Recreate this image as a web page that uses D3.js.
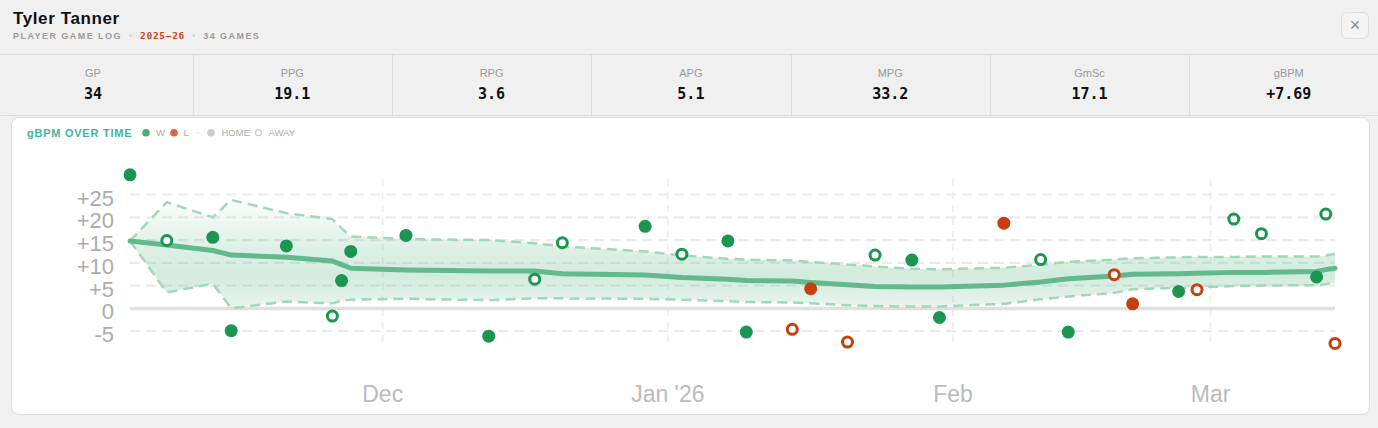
<!DOCTYPE html>
<html>
<head>
<meta charset="utf-8">
<script src="https://cdn.jsdelivr.net/npm/d3@7"></script>
<style>
  body { margin:0; width:1378px; height:428px; overflow:hidden; position:relative;
         background:#f0f0f0; font-family:"Liberation Sans", Arial, sans-serif; }
  .head { position:absolute; left:0; top:0; width:1378px; height:54px; border-bottom:1px solid #dcdcdc; }
  .name { position:absolute; left:13px; top:9px; font-size:17px; font-weight:bold; color:#111; letter-spacing:.6px; }
  .sub  { position:absolute; left:13px; top:30px; font-size:9px; font-weight:bold; color:#9a9a9a; letter-spacing:1.45px; white-space:nowrap; }
  .sub .dot { color:#d0d0d0; margin:0 8px 0 7px; letter-spacing:0; }
  .sub .season { color:#c8471c; font-family:"DejaVu Sans Mono", monospace; font-size:9.5px; letter-spacing:.7px; }
  .close { position:absolute; left:1341px; top:12px; width:26px; height:25px; border:1px solid #dedede; border-radius:6px;
           background:#f3f3f3; color:#888; font-size:18px; line-height:24px; text-align:center; }
  .stats { position:absolute; left:0; top:55px; width:1378px; height:60px; border-bottom:1px solid #dcdcdc; }
  .cell  { position:absolute; top:0; height:60px; width:199px; text-align:center; }
  .cell .lab { position:absolute; left:0; right:0; top:12px; font-size:11px; color:#999; }
  .cell .val { position:absolute; left:0; right:0; top:30px; font-size:15px; font-weight:bold; color:#111;
               font-family:"DejaVu Sans Mono", monospace; }
  .sep { position:absolute; top:0; width:1px; height:60px; background:#dcdcdc; }
  .card { position:absolute; left:11px; top:117px; width:1357px; height:296px; background:#fff;
          border:1px solid #dcdcdc; border-radius:8px; }
  svg { position:absolute; left:0; top:0; }
</style>
</head>
<body>
<div class="head">
  <div class="name">Tyler Tanner</div>
  <div class="sub">PLAYER GAME LOG<span class="dot">•</span><span class="season">2025–26</span><span class="dot">•</span>34 GAMES</div>
  <div class="close">×</div>
</div>
<div class="stats" id="stats"></div>
<div class="card"></div>
<svg id="chart" width="1378" height="428"></svg>

<script>
// season summary
const statLabels = ["GP", "PPG", "RPG", "APG", "MPG", "GmSc", "gBPM"];
const statValues = ["34", "19.1", "3.6", "5.1", "33.2", "17.1", "+7.69"];

// game log (in date order)
const gameDates = ["2025-11-03","2025-11-07","2025-11-12","2025-11-14","2025-11-20","2025-11-25","2025-11-26","2025-11-27",
  "2025-12-03","2025-12-12","2025-12-17","2025-12-20","2025-12-29","2026-01-02","2026-01-07","2026-01-09",
  "2026-01-14","2026-01-16","2026-01-20","2026-01-23","2026-01-27","2026-01-30","2026-02-06","2026-02-10",
  "2026-02-13","2026-02-18","2026-02-20","2026-02-25","2026-02-27","2026-03-03","2026-03-06","2026-03-12",
  "2026-03-13","2026-03-14"];
const gbpm = [29.2, 14.8, 15.5, -5.0, 13.6, -1.8, 6.0, 12.4, 15.9, -6.2, 6.3, 14.3, 17.9, 11.8, 14.7, -5.3,
  -4.7, 4.2, -7.5, 11.6, 10.5, -2.1, 18.6, 10.6, -5.3, 7.3, 0.9, 3.6, 4.0, 19.5, 16.3, 6.8, 20.6, -7.8];
const results = ["W","W","W","W","W","W","W","W","W","W","W","W","W","W","W","W",
  "L","L","L","W","W","W","L","W","W","L","L","W","L","W","W","W","W","L"];
const venues = ["H","A","H","H","H","A","H","H","H","H","A","A","H","A","H","H",
  "A","H","A","A","H","H","H","A","H","A","H","H","A","A","A","H","A","A"];
const rollingMean = [14.7, 13.8, 12.6, 11.6, 11.1, 10.3, 9.5, 8.7, 8.3, 8.1, 8.1, 7.5, 7.2, 6.7, 6.3, 6.0,
  5.9, 5.6, 5.1, 4.7, 4.6, 4.6, 5.0, 5.7, 6.4, 7.0, 7.4, 7.5, 7.6, 7.8, 7.8, 8.0, 8.4, 8.7];
const bandHigh = [14.7, 23.2, 19.9, 23.7, 20.8, 19.5, 17.5, 15.7, 15.1, 14.9, 14.2, 13.5, 12.4, 11.5, 10.8, 10.6,
  10.4, 10.1, 9.5, 9.1, 8.6, 8.5, 8.8, 9.5, 10.1, 10.6, 10.9, 11.1, 11.2, 11.2, 11.3, 11.3, 11.5, 11.9];
const bandLow = [14.7, 3.4, 5.3, -0.1, 1.4, 1.0, 1.6, 1.8, 2.0, 1.7, 2.1, 2.1, 2.0, 1.8, 1.5, 1.3,
  1.2, 1.0, 0.6, 0.4, 0.3, 0.3, 0.9, 1.9, 2.5, 3.3, 4.1, 4.4, 4.5, 4.8, 4.9, 5.0, 5.2, 5.6];

const yTicks = [-5, 0, 5, 10, 15, 20, 25];
const monthTicks = ["2025-12-01", "2026-01-01", "2026-02-01", "2026-03-01"];
const monthLabels = ["Dec", "Jan '26", "Feb", "Mar"];

const GREEN = "#1b9651", RED = "#c4400d";
const TIPOFF_HOUR = 14;

// stats bar
const stats = d3.select("#stats");
statLabels.forEach((lab, i) => {
  const c = stats.append("div").attr("class", "cell").style("left", (-6.5 + i * 199.3) + "px");
  c.append("div").attr("class", "lab").text(lab);
  c.append("div").attr("class", "val").text(statValues[i]);
  if (i > 0) stats.append("div").attr("class", "sep").style("left", (-6.5 + i * 199.3) + "px");
});

const parseDay = d3.utcParse("%Y-%m-%d");
const dates = gameDates.map(s => d3.utcHour.offset(parseDay(s), TIPOFF_HOUR));
const idx = d3.range(dates.length);

const svg = d3.select("#chart");

const x = d3.scaleUtc().domain(d3.extent(dates)).range([130, 1335]);
const y = d3.scaleLinear().domain([-5, 25]).range([330.7, 194]);

// title + legend
svg.append("text").attr("x", 27).attr("y", 136.5)
  .attr("font-size", 11).attr("font-weight", "bold").attr("letter-spacing", 0.75)
  .attr("fill", "#45b39d").text("gBPM OVER TIME");
const lg = svg.append("g").attr("font-size", 9.5).attr("fill", "#aaa");
lg.append("circle").attr("cx", 146).attr("cy", 132.7).attr("r", 3.8).attr("fill", "#4caf74");
lg.append("text").attr("x", 156).attr("y", 136).text("W");
lg.append("circle").attr("cx", 174).attr("cy", 132.7).attr("r", 3.8).attr("fill", "#d9693d");
lg.append("text").attr("x", 183.5).attr("y", 136).text("L");
lg.append("circle").attr("cx", 198).attr("cy", 132.7).attr("r", 0.8).attr("fill", "#ddd");
lg.append("circle").attr("cx", 211).attr("cy", 132.7).attr("r", 3.8).attr("fill", "#ccc");
lg.append("text").attr("x", 221.5).attr("y", 136).text("HOME");
lg.append("circle").attr("cx", 258.5).attr("cy", 132.7).attr("r", 3).attr("fill", "#fff")
  .attr("stroke", "#ccc").attr("stroke-width", 1.2);
lg.append("text").attr("x", 268.5).attr("y", 136).text("AWAY");

// vertical month gridlines + labels
const xAxis = svg.append("g").attr("transform", "translate(0,342)")
  .call(d3.axisBottom(x)
    .tickValues(monthTicks.map(parseDay))
    .tickFormat((d, i) => monthLabels[i])
    .tickSize(-(342 - 175))
    .tickPadding(44));
xAxis.select(".domain").remove();
xAxis.selectAll("line").attr("stroke", "#efefef").attr("stroke-width", 2).attr("stroke-dasharray", "7,6");
xAxis.selectAll("text").attr("font-size", 23).attr("fill", "#bbb")
  .attr("font-family", "'Liberation Sans', Arial, sans-serif");

// horizontal gridlines + labels
const yAxis = svg.append("g").attr("transform", "translate(130,0)")
  .call(d3.axisLeft(y)
    .tickValues(yTicks)
    .tickFormat(v => v > 0 ? "+" + v : String(v))
    .tickSize(-(1335 - 130))
    .tickPadding(16));
yAxis.select(".domain").remove();
yAxis.selectAll("line")
  .attr("stroke", d => d === 0 ? "#e0e0e0" : "#ebebeb")
  .attr("stroke-width", d => d === 0 ? 3.5 : 2.2)
  .attr("stroke-dasharray", d => d === 0 ? null : "10,6");
yAxis.selectAll("text").attr("font-size", 22).attr("fill", "#ababab").attr("dy", "0.5em")
  .attr("font-family", "'Liberation Sans', Arial, sans-serif");

// band gradient
const grad = svg.append("defs").append("linearGradient").attr("id", "bandFill")
  .attr("gradientUnits", "userSpaceOnUse").attr("x1", 0).attr("x2", 0).attr("y1", y(25)).attr("y2", y(0));
[[0, 0.0], [0.4, 0.16], [0.72, 0.25], [1, 0.12]].forEach(([o, a]) =>
  grad.append("stop").attr("offset", o).attr("stop-color", "#4caf78").attr("stop-opacity", a));

svg.append("path").datum(idx)
  .attr("d", d3.area().x(i => x(dates[i])).y0(i => y(bandLow[i])).y1(i => y(bandHigh[i])))
  .attr("fill", "url(#bandFill)");

[bandHigh, bandLow].forEach(arr => {
  svg.append("path").datum(idx)
    .attr("d", d3.line().x(i => x(dates[i])).y(i => y(arr[i])))
    .attr("fill", "none").attr("stroke", "#a2d7b8").attr("stroke-width", 2.5)
    .attr("stroke-dasharray", "10,6");
});

svg.append("path").datum(idx)
  .attr("d", d3.line().x(i => x(dates[i])).y(i => y(rollingMean[i])))
  .attr("fill", "none").attr("stroke", "#62b98b").attr("stroke-width", 5)
  .attr("stroke-linecap", "round").attr("stroke-linejoin", "round");

// games
svg.append("g").selectAll("circle").data(idx).join("circle")
  .attr("cx", i => x(dates[i]))
  .attr("cy", i => y(gbpm[i]))
  .attr("r", i => venues[i] === "H" ? 6.5 : 5)
  .attr("fill", i => venues[i] === "H" ? (results[i] === "W" ? GREEN : RED) : "#fff")
  .attr("stroke", i => venues[i] === "H" ? "none" : (results[i] === "W" ? GREEN : RED))
  .attr("stroke-width", 3);
</script>
</body>
</html>
